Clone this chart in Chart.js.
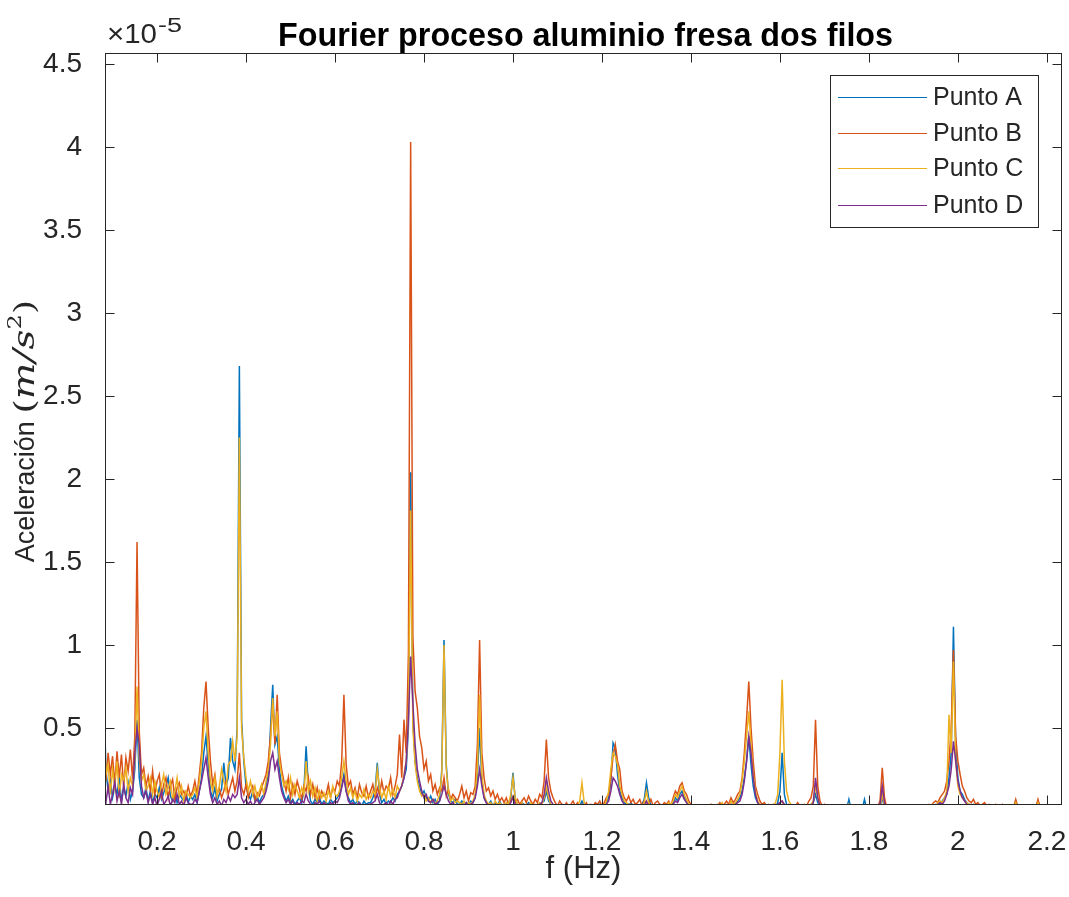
<!DOCTYPE html>
<html>
<head>
<meta charset="utf-8">
<title>Fourier proceso aluminio fresa dos filos</title>
<script src="https://cdn.jsdelivr.net/npm/chart.js@4.4.0/dist/chart.umd.min.js"></script>
<style>
  html, body { margin: 0; padding: 0; background: #fff; }
  #wrap { width: 1069px; height: 897px; }
</style>
</head>
<body>
<div id="wrap"><canvas id="chart" width="1069" height="897"></canvas></div>
<script>
// frequency bins (Hz)
const freq = [
  0.08,0.085,0.09,0.095,0.1,0.105,0.11,0.115,0.12,0.125,0.13,0.135,0.14,0.145,0.15,0.155,0.16,0.165,0.17,0.175,
  0.18,0.185,0.19,0.195,0.2,0.205,0.21,0.215,0.22,0.225,0.23,0.235,0.24,0.245,0.25,0.255,0.26,0.265,0.27,0.275,
  0.28,0.285,0.29,0.295,0.3,0.305,0.31,0.315,0.32,0.325,0.33,0.335,0.34,0.345,0.35,0.355,0.36,0.365,0.37,0.375,
  0.38,0.385,0.39,0.395,0.4,0.405,0.41,0.415,0.42,0.425,0.43,0.435,0.44,0.445,0.45,0.455,0.46,0.465,0.47,0.475,
  0.48,0.485,0.49,0.495,0.5,0.505,0.51,0.515,0.52,0.525,0.53,0.535,0.54,0.545,0.55,0.555,0.56,0.565,0.57,0.575,
  0.58,0.585,0.59,0.595,0.6,0.605,0.61,0.615,0.62,0.625,0.63,0.635,0.64,0.645,0.65,0.655,0.66,0.665,0.67,0.675,
  0.68,0.685,0.69,0.695,0.7,0.705,0.71,0.715,0.72,0.725,0.73,0.735,0.74,0.745,0.75,0.755,0.76,0.765,0.77,0.775,
  0.78,0.785,0.79,0.795,0.8,0.805,0.81,0.815,0.82,0.825,0.83,0.835,0.84,0.845,0.85,0.855,0.86,0.865,0.87,0.875,
  0.88,0.885,0.89,0.895,0.9,0.905,0.91,0.915,0.92,0.925,0.93,0.935,0.94,0.945,0.95,0.955,0.96,0.965,0.97,0.975,
  0.98,0.985,0.99,0.995,1,1.005,1.01,1.015,1.02,1.025,1.03,1.035,1.04,1.045,1.05,1.055,1.06,1.065,1.07,1.075,
  1.08,1.085,1.09,1.095,1.1,1.105,1.11,1.115,1.12,1.125,1.13,1.135,1.14,1.145,1.15,1.155,1.16,1.165,1.17,1.175,
  1.18,1.185,1.19,1.195,1.2,1.205,1.21,1.215,1.22,1.225,1.23,1.235,1.24,1.245,1.25,1.255,1.26,1.265,1.27,1.275,
  1.28,1.285,1.29,1.295,1.3,1.305,1.31,1.315,1.32,1.325,1.33,1.335,1.34,1.345,1.35,1.355,1.36,1.365,1.37,1.375,
  1.38,1.385,1.39,1.395,1.4,1.405,1.41,1.415,1.42,1.425,1.43,1.435,1.44,1.445,1.45,1.455,1.46,1.465,1.47,1.475,
  1.48,1.485,1.49,1.495,1.5,1.505,1.51,1.515,1.52,1.525,1.53,1.535,1.54,1.545,1.55,1.555,1.56,1.565,1.57,1.575,
  1.58,1.585,1.59,1.595,1.6,1.605,1.61,1.615,1.62,1.625,1.63,1.635,1.64,1.645,1.65,1.655,1.66,1.665,1.67,1.675,
  1.68,1.685,1.69,1.695,1.7,1.705,1.71,1.715,1.72,1.725,1.73,1.735,1.74,1.745,1.75,1.755,1.76,1.765,1.77,1.775,
  1.78,1.785,1.79,1.795,1.8,1.805,1.81,1.815,1.82,1.825,1.83,1.835,1.84,1.845,1.85,1.855,1.86,1.865,1.87,1.875,
  1.88,1.885,1.89,1.895,1.9,1.905,1.91,1.915,1.92,1.925,1.93,1.935,1.94,1.945,1.95,1.955,1.96,1.965,1.97,1.975,
  1.98,1.985,1.99,1.995,2,2.005,2.01,2.015,2.02,2.025,2.03,2.035,2.04,2.045,2.05,2.055,2.06,2.065,2.07,2.075,
  2.08,2.085,2.09,2.095,2.1,2.105,2.11,2.115,2.12,2.125,2.13,2.135,2.14,2.145,2.15,2.155,2.16,2.165,2.17,2.175,
  2.18,2.185,2.19,2.195,2.2,2.205,2.21,2.215,2.22,2.225,2.23
];

// amplitudes in units of 1e-5 m/s^2
const puntoA = [
  0.78,0.25,0.12,0.18,0.08,0.15,0.10,0.20,0.06,0.14,0.09,0.17,0.07,0.12,0.25,0.55,0.20,0.10,0.08,0.14,
  0.06,0.12,0.05,0.10,0.08,0.14,0.07,0.11,0.15,0.20,0.09,0.06,0.12,0.05,0.10,0.08,0.06,0.11,0.05,0.09,
  0.07,0.10,0.05,0.12,0.20,0.35,0.45,0.28,0.12,0.08,0.14,0.06,0.10,0.13,0.29,0.15,0.20,0.44,0.30,0.25,
  0.50,2.68,0.55,0.30,0.15,0.10,0.07,0.12,0.06,0.09,0.05,0.08,0.10,0.15,0.22,0.50,0.76,0.40,0.45,0.25,
  0.15,0.10,0.06,0.09,0.05,0.07,0.04,0.06,0.08,0.05,0.12,0.39,0.15,0.06,0.04,0.07,0.05,0.08,0.04,0.06,
  0.05,0.04,0.07,0.05,0.06,0.08,0.10,0.15,0.22,0.12,0.08,0.05,0.07,0.04,0.06,0.05,0.03,0.06,0.04,0.05,
  0.05,0.08,0.12,0.29,0.10,0.05,0.07,0.04,0.06,0.05,0.08,0.06,0.10,0.12,0.15,0.20,0.25,0.50,2.04,0.55,
  0.30,0.20,0.15,0.10,0.12,0.08,0.06,0.09,0.05,0.07,0.04,0.06,0.25,1.03,0.28,0.10,0.06,0.05,0.07,0.04,
  0.04,0.06,0.03,0.05,0.04,0.06,0.05,0.08,0.20,0.50,0.18,0.08,0.05,0.04,0.06,0.03,0.05,0.04,0.06,0.03,
  0.04,0.03,0.05,0.08,0.23,0.07,0.04,0.03,0.05,0.04,0.03,0.05,0.04,0.03,0.02,0.04,0.03,0.05,0.06,0.12,
  0.06,0.04,0.03,0.02,0.03,0.02,0.04,0.02,0.03,0.02,0.03,0.02,0.03,0.02,0.03,0.06,0.03,0.02,0.03,0.02,
  0.02,0.03,0.02,0.04,0.03,0.02,0.05,0.08,0.18,0.41,0.38,0.22,0.12,0.08,0.05,0.04,0.03,0.05,0.03,0.02,
  0.03,0.02,0.04,0.07,0.17,0.08,0.03,0.02,0.03,0.02,0.04,0.02,0.03,0.02,0.03,0.04,0.05,0.08,0.06,0.10,
  0.12,0.08,0.06,0.03,0.02,0.01,0.01,0.01,0.02,0.01,0.01,0.02,0.01,0.01,0.02,0.01,0.01,0.02,0.03,0.02,
  0.03,0.04,0.03,0.05,0.04,0.06,0.08,0.12,0.20,0.30,0.45,0.28,0.15,0.08,0.05,0.04,0.03,0.04,0.02,0.03,
  0.02,0.03,0.02,0.05,0.12,0.35,0.10,0.04,0.02,0.03,0.02,0.03,0.02,0.02,0.03,0.02,0.03,0.02,0.04,0.05,
  0.10,0.05,0.03,0.02,0.01,0.02,0.01,0.01,0.02,0.01,0.01,0.01,0.02,0.01,0.01,0.07,0.01,0.01,0.01,0.01,
  0.01,0.01,0.07,0.01,0.01,0.01,0.02,0.01,0.01,0.02,0.08,0.02,0.01,0.01,0.01,0.01,0.01,0.01,0.01,0.01,
  0.01,0.01,0.01,0.01,0.02,0.01,0.01,0.01,0.02,0.01,0.02,0.03,0.02,0.03,0.04,0.03,0.05,0.06,0.08,0.10,
  0.20,0.35,1.11,0.40,0.20,0.12,0.10,0.07,0.05,0.04,0.03,0.04,0.03,0.02,0.03,0.02,0.03,0.02,0.02,0.03,
  0.02,0.03,0.02,0.02,0.03,0.02,0.02,0.01,0.02,0.02,0.06,0.02,0.01,0.02,0.01,0.01,0.02,0.01,0.01,0.02,
  0.06,0.02,0.01,0.01,0.01,0.01,0.01,0.01,0.01,0.01,0.01
];

const puntoB = [
  0.30,0.18,0.35,0.22,0.33,0.16,0.36,0.20,0.34,0.14,0.32,0.24,0.37,0.19,0.45,1.62,0.48,0.22,0.26,0.15,
  0.21,0.12,0.24,0.10,0.18,0.22,0.09,0.16,0.20,0.08,0.15,0.19,0.07,0.14,0.17,0.10,0.12,0.08,0.15,0.09,
  0.12,0.18,0.10,0.22,0.35,0.62,0.78,0.50,0.30,0.16,0.22,0.10,0.14,0.08,0.12,0.18,0.10,0.15,0.20,0.12,
  0.18,0.35,0.14,0.10,0.16,0.08,0.12,0.15,0.07,0.11,0.09,0.14,0.18,0.22,0.30,0.45,0.65,0.40,0.70,0.35,
  0.25,0.18,0.12,0.20,0.08,0.16,0.10,0.18,0.13,0.07,0.15,0.12,0.20,0.10,0.16,0.08,0.14,0.07,0.12,0.09,
  0.10,0.16,0.08,0.14,0.12,0.18,0.15,0.30,0.70,0.28,0.15,0.18,0.10,0.14,0.08,0.16,0.11,0.09,0.15,0.08,
  0.12,0.16,0.08,0.14,0.10,0.18,0.11,0.15,0.13,0.20,0.10,0.15,0.22,0.46,0.20,0.55,0.35,0.95,4.03,1.05,
  0.72,0.62,0.45,0.38,0.25,0.30,0.18,0.22,0.12,0.16,0.10,0.14,0.12,0.20,0.09,0.13,0.07,0.10,0.08,0.06,
  0.10,0.15,0.08,0.12,0.06,0.11,0.10,0.15,0.40,1.03,0.35,0.20,0.12,0.14,0.09,0.12,0.07,0.10,0.06,0.08,
  0.05,0.08,0.04,0.06,0.09,0.05,0.07,0.04,0.06,0.08,0.05,0.09,0.06,0.04,0.07,0.05,0.10,0.08,0.18,0.43,
  0.20,0.12,0.08,0.05,0.03,0.06,0.04,0.02,0.05,0.03,0.04,0.06,0.03,0.05,0.02,0.04,0.03,0.05,0.02,0.04,
  0.03,0.05,0.04,0.06,0.03,0.05,0.08,0.10,0.20,0.33,0.40,0.30,0.25,0.12,0.08,0.06,0.09,0.05,0.07,0.04,
  0.05,0.07,0.03,0.06,0.05,0.04,0.07,0.03,0.05,0.06,0.04,0.03,0.05,0.04,0.06,0.03,0.08,0.12,0.10,0.15,
  0.17,0.12,0.10,0.06,0.04,0.02,0.01,0.02,0.01,0.03,0.02,0.01,0.02,0.04,0.02,0.01,0.03,0.05,0.03,0.04,
  0.06,0.04,0.08,0.05,0.07,0.10,0.12,0.20,0.35,0.55,0.78,0.50,0.30,0.15,0.10,0.06,0.04,0.05,0.03,0.04,
  0.03,0.04,0.02,0.03,0.05,0.06,0.03,0.02,0.04,0.03,0.02,0.03,0.05,0.03,0.02,0.04,0.03,0.06,0.08,0.15,
  0.55,0.15,0.06,0.03,0.04,0.02,0.03,0.02,0.01,0.02,0.03,0.02,0.01,0.02,0.01,0.02,0.01,0.02,0.01,0.01,
  0.01,0.02,0.01,0.01,0.02,0.01,0.01,0.02,0.03,0.06,0.26,0.08,0.02,0.01,0.01,0.01,0.02,0.01,0.01,0.01,
  0.01,0.01,0.02,0.01,0.01,0.02,0.01,0.02,0.01,0.02,0.03,0.04,0.03,0.05,0.06,0.05,0.08,0.10,0.12,0.18,
  0.30,0.50,0.97,0.45,0.30,0.22,0.15,0.12,0.08,0.06,0.05,0.07,0.04,0.05,0.03,0.04,0.05,0.03,0.04,0.03,
  0.03,0.04,0.02,0.03,0.04,0.02,0.03,0.02,0.03,0.02,0.07,0.02,0.03,0.02,0.01,0.02,0.03,0.02,0.01,0.02,
  0.07,0.02,0.01,0.02,0.01,0.01,0.01,0.02,0.01,0.01,0.01
];

const puntoC = [
  0.60,0.22,0.28,0.10,0.25,0.14,0.30,0.08,0.22,0.18,0.26,0.12,0.20,0.15,0.30,0.75,0.32,0.18,0.22,0.12,
  0.15,0.20,0.10,0.18,0.12,0.08,0.16,0.22,0.10,0.14,0.18,0.07,0.12,0.20,0.09,0.15,0.06,0.12,0.10,0.08,
  0.10,0.14,0.08,0.18,0.30,0.50,0.60,0.35,0.18,0.12,0.20,0.09,0.15,0.25,0.18,0.12,0.28,0.30,0.42,0.30,
  0.45,2.25,0.50,0.32,0.20,0.12,0.18,0.10,0.15,0.08,0.12,0.16,0.10,0.18,0.25,0.40,0.68,0.45,0.60,0.30,
  0.22,0.15,0.18,0.13,0.20,0.10,0.16,0.12,0.08,0.14,0.10,0.30,0.12,0.18,0.09,0.14,0.06,0.12,0.08,0.11,
  0.06,0.12,0.08,0.15,0.10,0.09,0.12,0.20,0.30,0.18,0.10,0.14,0.08,0.12,0.06,0.10,0.08,0.13,0.07,0.10,
  0.08,0.12,0.10,0.25,0.14,0.08,0.12,0.07,0.15,0.09,0.13,0.08,0.15,0.12,0.15,0.22,0.30,0.55,1.81,0.50,
  0.28,0.18,0.12,0.09,0.10,0.06,0.08,0.05,0.07,0.04,0.06,0.10,0.22,1.00,0.25,0.12,0.06,0.08,0.05,0.06,
  0.05,0.04,0.06,0.03,0.05,0.04,0.06,0.10,0.25,0.70,0.22,0.10,0.06,0.04,0.05,0.03,0.06,0.04,0.05,0.03,
  0.03,0.05,0.04,0.10,0.20,0.08,0.04,0.03,0.05,0.03,0.04,0.03,0.05,0.03,0.04,0.03,0.05,0.04,0.08,0.15,
  0.08,0.04,0.03,0.02,0.03,0.02,0.03,0.02,0.02,0.03,0.02,0.03,0.02,0.03,0.06,0.17,0.05,0.02,0.03,0.02,
  0.02,0.03,0.02,0.03,0.04,0.03,0.06,0.12,0.25,0.35,0.33,0.28,0.15,0.10,0.06,0.05,0.04,0.03,0.04,0.03,
  0.02,0.03,0.02,0.05,0.12,0.05,0.02,0.03,0.02,0.03,0.02,0.03,0.02,0.03,0.05,0.04,0.06,0.10,0.08,0.12,
  0.15,0.10,0.07,0.04,0.02,0.01,0.02,0.01,0.01,0.02,0.01,0.01,0.02,0.03,0.01,0.02,0.04,0.03,0.05,0.03,
  0.04,0.03,0.06,0.04,0.05,0.07,0.10,0.18,0.30,0.45,0.60,0.40,0.22,0.12,0.06,0.04,0.03,0.02,0.03,0.02,
  0.02,0.03,0.05,0.10,0.35,0.79,0.30,0.12,0.06,0.04,0.03,0.02,0.03,0.02,0.03,0.02,0.02,0.03,0.04,0.06,
  0.15,0.08,0.03,0.02,0.02,0.01,0.02,0.01,0.01,0.02,0.01,0.01,0.02,0.01,0.01,0.04,0.01,0.01,0.01,0.01,
  0.01,0.01,0.03,0.01,0.01,0.01,0.01,0.02,0.01,0.02,0.10,0.03,0.01,0.01,0.01,0.01,0.01,0.01,0.01,0.01,
  0.01,0.01,0.02,0.01,0.01,0.01,0.02,0.01,0.01,0.02,0.02,0.03,0.02,0.04,0.03,0.05,0.06,0.05,0.08,0.12,
  0.58,0.35,0.90,0.30,0.15,0.10,0.08,0.06,0.05,0.04,0.03,0.04,0.03,0.02,0.03,0.02,0.03,0.02,0.03,0.02,
  0.02,0.02,0.03,0.02,0.02,0.03,0.02,0.02,0.01,0.02,0.05,0.02,0.01,0.02,0.01,0.02,0.01,0.02,0.01,0.01,
  0.05,0.02,0.01,0.01,0.01,0.01,0.01,0.01,0.01,0.01,0.01
];

const puntoD = [
  0.12,0.05,0.15,0.04,0.10,0.18,0.06,0.12,0.04,0.16,0.08,0.05,0.14,0.10,0.35,0.50,0.40,0.15,0.08,0.12,
  0.05,0.10,0.04,0.08,0.03,0.07,0.12,0.04,0.06,0.09,0.03,0.07,0.05,0.10,0.04,0.06,0.03,0.08,0.05,0.04,
  0.04,0.07,0.05,0.12,0.18,0.25,0.32,0.20,0.10,0.05,0.08,0.04,0.06,0.03,0.07,0.05,0.09,0.06,0.10,0.08,
  0.10,0.20,0.08,0.05,0.07,0.04,0.06,0.03,0.05,0.07,0.04,0.06,0.08,0.12,0.18,0.30,0.35,0.25,0.30,0.20,
  0.12,0.08,0.05,0.07,0.04,0.06,0.03,0.05,0.04,0.06,0.05,0.10,0.06,0.04,0.03,0.05,0.04,0.06,0.03,0.05,
  0.04,0.03,0.05,0.04,0.06,0.05,0.08,0.14,0.20,0.12,0.06,0.04,0.05,0.03,0.04,0.05,0.03,0.04,0.03,0.04,
  0.04,0.05,0.06,0.10,0.05,0.03,0.04,0.05,0.03,0.06,0.04,0.07,0.08,0.12,0.15,0.20,0.30,0.55,0.93,0.65,
  0.40,0.25,0.18,0.12,0.08,0.10,0.06,0.05,0.07,0.04,0.05,0.06,0.10,0.15,0.10,0.06,0.04,0.05,0.03,0.04,
  0.03,0.04,0.03,0.05,0.03,0.04,0.05,0.08,0.15,0.25,0.15,0.08,0.05,0.03,0.04,0.03,0.04,0.03,0.04,0.03,
  0.03,0.04,0.03,0.05,0.08,0.04,0.03,0.02,0.04,0.03,0.02,0.04,0.03,0.02,0.03,0.02,0.04,0.05,0.10,0.20,
  0.12,0.06,0.04,0.03,0.02,0.03,0.02,0.03,0.02,0.03,0.02,0.02,0.03,0.02,0.02,0.04,0.02,0.03,0.02,0.02,
  0.02,0.03,0.02,0.03,0.02,0.03,0.04,0.06,0.12,0.20,0.18,0.15,0.10,0.06,0.04,0.03,0.04,0.03,0.02,0.03,
  0.02,0.03,0.02,0.03,0.06,0.03,0.02,0.03,0.02,0.02,0.03,0.02,0.03,0.02,0.03,0.02,0.04,0.06,0.05,0.08,
  0.10,0.07,0.05,0.03,0.02,0.01,0.01,0.02,0.01,0.01,0.02,0.01,0.01,0.02,0.01,0.01,0.02,0.02,0.03,0.02,
  0.03,0.02,0.04,0.03,0.04,0.05,0.06,0.10,0.18,0.30,0.45,0.35,0.20,0.10,0.05,0.03,0.02,0.03,0.02,0.02,
  0.02,0.02,0.03,0.04,0.05,0.06,0.04,0.03,0.02,0.02,0.03,0.02,0.02,0.03,0.02,0.02,0.03,0.02,0.03,0.05,
  0.20,0.08,0.03,0.02,0.01,0.02,0.01,0.01,0.01,0.02,0.01,0.01,0.01,0.02,0.01,0.03,0.01,0.01,0.01,0.01,
  0.01,0.01,0.03,0.01,0.01,0.01,0.01,0.01,0.02,0.04,0.15,0.05,0.01,0.01,0.01,0.01,0.01,0.01,0.01,0.01,
  0.01,0.01,0.01,0.02,0.01,0.01,0.01,0.02,0.01,0.01,0.02,0.02,0.03,0.02,0.03,0.04,0.05,0.04,0.06,0.10,
  0.15,0.25,0.42,0.30,0.18,0.12,0.08,0.06,0.04,0.03,0.04,0.03,0.02,0.03,0.02,0.03,0.02,0.02,0.03,0.02,
  0.02,0.02,0.01,0.02,0.02,0.01,0.02,0.01,0.02,0.01,0.03,0.01,0.02,0.01,0.01,0.02,0.01,0.01,0.02,0.01,
  0.03,0.01,0.01,0.01,0.01,0.01,0.01,0.01,0.01,0.01,0.01
];

const seriesNames = ['Punto A', 'Punto B', 'Punto C', 'Punto D'];
const seriesColors = ['#0072BD', '#D95319', '#EDB120', '#7E2F8E'];
const xTicks = [0.2, 0.4, 0.6, 0.8, 1, 1.2, 1.4, 1.6, 1.8, 2, 2.2];
const yTicks = [0.5, 1, 1.5, 2, 2.5, 3, 3.5, 4, 4.5];

const INK = '#262626';
const SANS = '"Liberation Sans", Arial, Helvetica, sans-serif';
const SERIF = '"DejaVu Serif", "Liberation Serif", serif';

const fmt = v => String(Math.round(v * 10) / 10);

// draws text squeezed/stretched to a given width
function fitText(ctx, text, x, y, w) {
  const m = ctx.measureText(text).width;
  ctx.save();
  ctx.translate(x, y);
  ctx.scale(w / m, 1);
  ctx.fillText(text, 0, 0);
  ctx.restore();
}

// MATLAB-like box, inward ticks, labels and legend
const matlabFrame = {
  id: 'matlabFrame',
  afterDraw(chart) {
    const { ctx, chartArea: a, scales: { x, y } } = chart;
    const L = Math.round(a.left) + 0.5, R = Math.round(a.right) - 0.5;
    const T = Math.round(a.top) + 0.5, B = Math.round(a.bottom) - 0.5;
    ctx.save();
    ctx.strokeStyle = INK;
    ctx.lineWidth = 1;
    ctx.strokeRect(L, T, R - L, B - T);
    const tl = 9;
    ctx.beginPath();
    xTicks.forEach(v => {
      const px = Math.round(x.getPixelForValue(v)) + 0.5;
      ctx.moveTo(px, B); ctx.lineTo(px, B - tl);
      ctx.moveTo(px, T); ctx.lineTo(px, T + tl);
    });
    yTicks.forEach(v => {
      const py = Math.round(y.getPixelForValue(v)) + 0.5;
      ctx.moveTo(L, py); ctx.lineTo(L + tl, py);
      ctx.moveTo(R, py); ctx.lineTo(R - tl, py);
    });
    ctx.stroke();

    ctx.fillStyle = '#000';
    ctx.textBaseline = 'alphabetic';

    // title
    ctx.font = 'bold 33px ' + SANS;
    ctx.textAlign = 'left';
    fitText(ctx, 'Fourier proceso aluminio fresa dos filos', 278, 46, 615);

    ctx.fillStyle = INK;
    // exponent
    ctx.font = '27px ' + SANS;
    fitText(ctx, '\u00d710', 107, 43, 50);
    ctx.font = '20px ' + SANS;
    fitText(ctx, '-5', 158, 32, 24);

    // x label
    ctx.font = '31px ' + SANS;
    ctx.textAlign = 'center';
    ctx.fillText('f (Hz)', (a.left + a.right) / 2, 878);

    // y label, rotated; the math part is fitted to the width seen in the figure
    const sansPart = 'Aceleración ';
    ctx.font = '27px ' + SANS;
    const sansW = ctx.measureText(sansPart).width;
    const parts = [
      { t: '(', f: '28px ' + SERIF, dy: 0 },
      { t: 'm/s', f: 'italic 29px ' + SERIF, dy: 0 },
      { t: '2', f: '18px ' + SERIF, dy: -13 },
      { t: ')', f: '28px ' + SERIF, dy: 0 }
    ];
    let mathW = 0;
    parts.forEach(p => { ctx.font = p.f; p.w = ctx.measureText(p.t).width; mathW += p.w; });
    const mathTarget = 114;
    const sx = mathTarget / mathW;
    const total = sansW + mathTarget;
    ctx.save();
    ctx.translate(34, (a.top + a.bottom) / 2 + 2);
    ctx.rotate(-Math.PI / 2);
    ctx.textAlign = 'left';
    let cx = -total / 2;
    ctx.font = '27px ' + SANS;
    ctx.fillText(sansPart, cx, 0);
    cx += sansW;
    ctx.scale(sx, 1);
    cx /= sx;
    parts.forEach(p => { ctx.font = p.f; ctx.fillText(p.t, cx, p.dy); cx += p.w; });
    ctx.restore();

    // legend box
    const lx = 830, ly = 75, lw = 208, lh = 152;
    ctx.fillStyle = '#fff';
    ctx.fillRect(lx, ly, lw, lh);
    ctx.strokeStyle = INK;
    ctx.lineWidth = 1;
    ctx.strokeRect(lx + 0.5, ly + 0.5, lw, lh);
    const rows = [97, 133, 168, 205];
    ctx.font = '25px ' + SANS;
    ctx.textAlign = 'left';
    ctx.textBaseline = 'middle';
    seriesNames.forEach((name, i) => {
      ctx.strokeStyle = seriesColors[i];
      ctx.lineWidth = 1.2;
      ctx.beginPath();
      ctx.moveTo(838, rows[i] + 0.5);
      ctx.lineTo(927, rows[i] + 0.5);
      ctx.stroke();
      ctx.fillStyle = INK;
      ctx.fillText(name, 933, rows[i] + 1);
    });
    ctx.restore();
  }
};

const allValues = [puntoA, puntoB, puntoC, puntoD];

// later series on top, as in the MATLAB plot
const datasets = allValues.map((vals, k) => ({
  label: seriesNames[k],
  data: freq.map((f, i) => ({ x: f, y: vals[i] })),
  borderColor: seriesColors[k],
  borderWidth: 1.5,
  pointRadius: 0,
  tension: 0,
  fill: false,
  order: allValues.length - k
}));

new Chart(document.getElementById('chart'), {
  type: 'line',
  data: { datasets },
  options: {
    responsive: false,
    animation: false,
    layout: { padding: { top: 53, right: 7, left: 0, bottom: 0 } },
    plugins: {
      legend: { display: false },
      tooltip: { enabled: false },
      title: { display: false }
    },
    scales: {
      x: {
        type: 'linear',
        min: 0.083,
        max: 2.234,
        afterBuildTicks: s => { s.ticks = xTicks.map(v => ({ value: v })); },
        afterFit: s => { s.height = 92; s.paddingLeft = 0; s.paddingRight = 0; },
        grid: { display: false },
        border: { display: false },
        ticks: {
          color: INK,
          font: { family: SANS, size: 28 },
          padding: 12,
          maxRotation: 0,
          autoSkip: false,
          callback: v => fmt(v)
        }
      },
      y: {
        type: 'linear',
        min: 0.036,
        max: 4.566,
        afterBuildTicks: s => { s.ticks = yTicks.map(v => ({ value: v })); },
        afterFit: s => { s.width = 105; s.paddingTop = 0; s.paddingBottom = 0; },
        grid: { display: false },
        border: { display: false },
        ticks: {
          color: INK,
          font: { family: SANS, size: 28 },
          padding: 15,
          autoSkip: false,
          callback: v => fmt(v)
        }
      }
    }
  },
  plugins: [matlabFrame]
});
</script>
</body>
</html>
